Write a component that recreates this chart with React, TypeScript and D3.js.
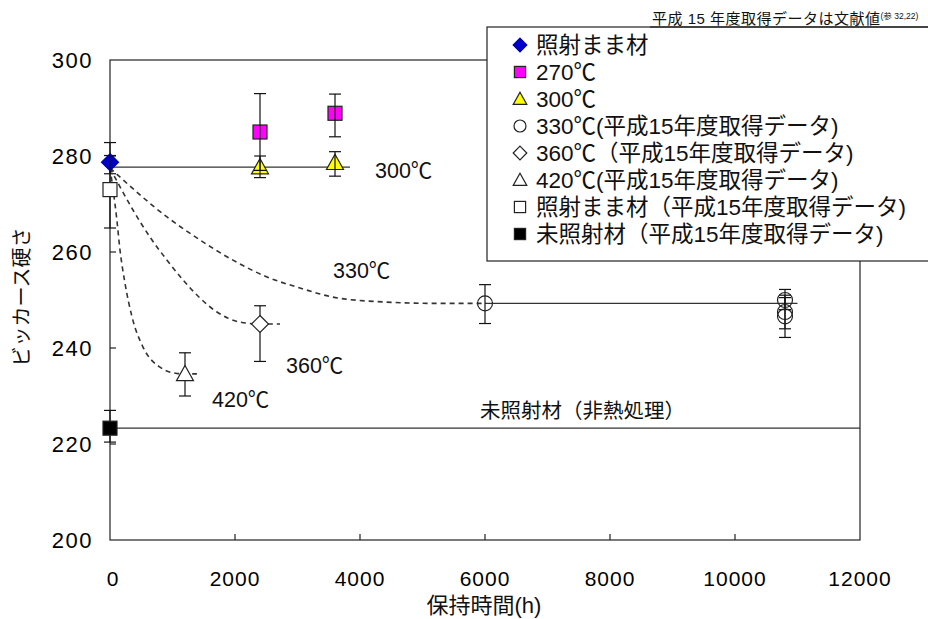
import React from "react";
import * as d3 from "d3";

const W = 928;
const H = 619;

const xTicks = [0, 2000, 4000, 6000, 8000, 10000, 12000];
const yTicks = [200, 220, 240, 260, 280, 300];

type Pt = { h: number; v: number; lo: number; hi: number };

const asIrradiated: Pt[] = [{ h: 0, v: 278.7, lo: 276.3, hi: 280.1 }];
const t270: Pt[] = [
  { h: 2400, v: 285, lo: 277, hi: 293 },
  { h: 3600, v: 288.9, lo: 284, hi: 292.9 },
];
const t300: Pt[] = [
  { h: 2400, v: 277.7, lo: 275.5, hi: 280 },
  { h: 3600, v: 278.6, lo: 275.8, hi: 280.9 },
];
const t330: Pt[] = [
  { h: 6000, v: 249.3, lo: 245.1, hi: 253.2 },
  { h: 10800, v: 250, lo: 248, hi: 252.2 },
  { h: 10800, v: 247.5, lo: 244, hi: 251 },
  { h: 10800, v: 246.6, lo: 242.2, hi: 250.5 },
];
const t360: Pt[] = [{ h: 2400, v: 245, lo: 237.2, hi: 248.8 }];
const t420: Pt[] = [{ h: 1200, v: 234.6, lo: 230, hi: 239 }];
const asIrr2003: Pt[] = [{ h: 0, v: 273, lo: 265, hi: 282.8 }];
const unirr: Pt[] = [{ h: 0, v: 223.3, lo: 220.4, hi: 227 }];

const line300: [number, number][] = [[0, 277.7], [3840, 277.7]];
const line330: [number, number][] = [[6000, 249.3], [11000, 249.3]];
const lineUnirr: [number, number][] = [[0, 223.3], [12000, 223.3]];

const curve330: [number, number][] = [
  [0, 277.5], [912, 267.3], [1440, 262.5], [1968, 258.3], [2512, 254.8],
  [3040, 252.5], [3568, 250.6], [4368, 249.6], [5168, 249.3], [6000, 249.3],
];
const curve360: [number, number][] = [
  [0, 277.5], [368, 268.75], [640, 263.1], [912, 258.3], [1168, 254.2],
  [1440, 250.4], [1712, 247.5], [2080, 245.4], [2400, 245], [2720, 245],
];
const curve420: [number, number][] = [
  [0, 277.5], [107, 267], [160, 260.4], [240, 253.5], [352, 246.5],
  [528, 240.2], [800, 236], [1072, 234.7], [1200, 234.6], [1390, 234.6],
];

const legendItems = [
  "照射まま材",
  "270℃",
  "300℃",
  "330℃(平成15年度取得データ)",
  "360℃（平成15年度取得データ)",
  "420℃(平成15年度取得データ)",
  "照射まま材（平成15年度取得データ)",
  "未照射材（平成15年度取得データ)",
];
const legendShapes = ["diamond", "square", "triangle", "circle", "diamond", "triangle", "square", "square"];
const legendFills = ["#0000cc", "#ff00ff", "#ffff00", "#fff", "#fff", "#fff", "#fff", "#000"];

const FONT = "'Liberation Sans', Arial, 'Noto Sans CJK JP', sans-serif";

const x = d3.scaleLinear().domain([0, 12000]).range([110, 860]);
const y = d3.scaleLinear().domain([200, 300]).range([540, 60]);

function marker(shape: string, cx: number, cy: number, fill: string, s = 1) {
  const stroke = "#222";
  if (shape === "diamond") {
    const r = 8.5 * s;
    return (
      <path d={`M${cx},${cy - r}L${cx + r},${cy}L${cx},${cy + r}L${cx - r},${cy}Z`} fill={fill} stroke={fill === "#0000cc" ? "#0000aa" : stroke} strokeWidth={1.2} />
    );
  }
  if (shape === "square") {
    const r = 7 * s;
    return <rect x={cx - r} y={cy - r} width={2 * r} height={2 * r} fill={fill} stroke={stroke} strokeWidth={1.2} />;
  }
  if (shape === "triangle") {
    const r = 8.5 * s;
    return (
      <path d={`M${cx},${cy - r}L${cx + r},${cy + r * 0.8}L${cx - r},${cy + r * 0.8}Z`} fill={fill} stroke={stroke} strokeWidth={1.2} />
    );
  }
  return <circle cx={cx} cy={cy} r={7.5 * s} fill={fill === "#fff" ? "none" : fill} stroke={stroke} strokeWidth={1.2} />;
}

function ErrBar({ p }: { p: Pt }) {
  const cx = x(p.h);
  return (
    <g stroke="#111" strokeWidth={1.2}>
      <line x1={cx} x2={cx} y1={y(p.lo)} y2={y(p.hi)} />
      <line x1={cx - 6} x2={cx + 6} y1={y(p.lo)} y2={y(p.lo)} />
      <line x1={cx - 6} x2={cx + 6} y1={y(p.hi)} y2={y(p.hi)} />
    </g>
  );
}

export default function App() {
  const straight = d3.line<[number, number]>().x((d) => x(d[0])).y((d) => y(d[1]));
  const smooth = d3
    .line<[number, number]>()
    .x((d) => x(d[0]))
    .y((d) => y(d[1]))
    .curve(d3.curveMonotoneX);

  const series: { data: Pt[]; shape: string; fill: string }[] = [
    { data: asIrr2003, shape: "square", fill: "#fff" },
    { data: unirr, shape: "square", fill: "#000" },
    { data: t330, shape: "circle", fill: "#fff" },
    { data: t360, shape: "diamond", fill: "#fff" },
    { data: t420, shape: "triangle", fill: "#fff" },
    { data: t300, shape: "triangle", fill: "#ffff00" },
    { data: t270, shape: "square", fill: "#ff00ff" },
    { data: asIrradiated, shape: "diamond", fill: "#0000cc" },
  ];

  return (
    <svg width={W} height={H} style={{ position: "absolute", left: 0, top: 0, background: "#fff" }} fontFamily={FONT}>
      <rect width={W} height={H} fill="#fff" />
      {/* frame */}
      <rect x={110} y={60} width={750} height={480} fill="none" stroke="#222" strokeWidth={1.2} />
      {xTicks.slice(1, -1).map((t) => (
        <line key={t} x1={x(t)} x2={x(t)} y1={540} y2={534} stroke="#222" strokeWidth={1.2} />
      ))}
      {yTicks.slice(1, -1).map((t) => (
        <line key={t} x1={110} x2={116} y1={y(t)} y2={y(t)} stroke="#222" strokeWidth={1.2} />
      ))}
      {xTicks.map((t) => (
        <text key={t} x={x(t) + (t === 0 ? 3 : 0)} y={586} textAnchor="middle" fontSize={21} letterSpacing={1} fill="#000">
          {t}
        </text>
      ))}
      {yTicks.map((t) => (
        <text key={t} x={93} y={y(t) + 8} textAnchor="end" fontSize={22} letterSpacing={1.5} fill="#000">
          {t}
        </text>
      ))}
      <text x={484} y={613} textAnchor="middle" fontSize={22} fill="#111">
        保持時間(h)
      </text>
      <text transform="translate(29,297) rotate(-90)" textAnchor="middle" fontSize={20} fill="#111">
        ビッカース硬さ
      </text>

      {/* lines */}
      <g fill="none" stroke="#333" strokeWidth={1.3}>
        <path d={straight(line300) || ""} />
        <path d={straight(line330) || ""} />
        <path d={straight(lineUnirr) || ""} />
      </g>
      <g fill="none" stroke="#333" strokeWidth={1.6} strokeDasharray="5,4">
        <path d={smooth(curve330) || ""} />
        <path d={smooth(curve360) || ""} />
        <path d={smooth(curve420) || ""} />
      </g>

      {/* points */}
      {series.map((s, i) => (
        <g key={i}>
          {s.data.map((p, j) => (
            <g key={j}>
              {s.fill === "#fff" || s.fill === "#000" ? <ErrBar p={p} /> : null}
              {marker(s.shape, x(p.h), y(p.v), s.fill)}
              {s.fill !== "#fff" && s.fill !== "#000" ? <ErrBar p={p} /> : null}
            </g>
          ))}
        </g>
      ))}

      {/* annotations */}
      <g fontSize={21.5} fill="#111">
        <text x={x(4240)} y={y(275.4)}>300℃</text>
        <text x={x(3568)} y={y(254.6)}>330℃</text>
        <text x={x(2816)} y={y(234.8)}>360℃</text>
        <text x={x(1632)} y={y(227.7)}>420℃</text>
        <text x={x(5920)} y={y(225.4)} fontSize={20.5}>未照射材（非熱処理）</text>
      </g>

      {/* legend */}
      <rect x={487} y={27} width={460} height={234} fill="#fff" stroke="#222" strokeWidth={1.2} />
      {legendItems.map((t, i) => {
        const cy = 45 + i * 27;
        return (
          <g key={i}>
            {marker(legendShapes[i], 520, cy, legendFills[i], 0.8)}
            <text x={536} y={cy + 8} fontSize={22.5} fill="#111">
              {t}
            </text>
          </g>
        );
      })}

      {/* note */}
      <text x={652} y={24} fontSize={15} letterSpacing={0.5} fill="#111">
        平成 15 年度取得データは文献値
        <tspan fontSize={8.5} letterSpacing={0} dy={-5}>(参 32,22)</tspan>
      </text>
      <line x1={650} x2={928} y1={27} y2={27} stroke="#111" strokeWidth={1.2} />
    </svg>
  );
}
